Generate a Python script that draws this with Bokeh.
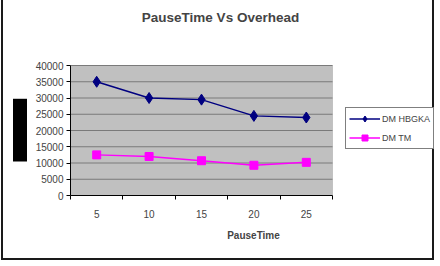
from bokeh.plotting import figure
from bokeh.models import (Range1d, FixedTicker, Legend, LegendItem, Title, Label,
                          BoxAnnotation, ColumnDataSource)
from bokeh.embed import file_html
from bokeh.resources import INLINE

# Data
pause_time = ["5", "10", "15", "20", "25"]
dmhbgka = [35000, 30000, 29500, 24500, 24000]
dmtm = [12500, 12000, 10700, 9300, 10200]
y_ticks = [0, 5000, 10000, 15000, 20000, 25000, 30000, 35000, 40000]

FONT = "Liberation Sans"
N = len(pause_time)
Y_MAX = y_ticks[-1]

# category centres sit half-way between the category boundaries
xpos = [i + 0.5 for i in range(N)]
src = ColumnDataSource(dict(x=xpos, a=dmhbgka, b=dmtm))

# The frame also covers the title and legend area; the plot area itself
# (262 x 130 px) is drawn as a shaded box inside it.
FRAME_W, FRAME_H = 366, 195
AREA_W, AREA_H = 262, 130

p = figure(width=433, height=260, output_backend="svg", toolbar_location=None,
           x_range=Range1d(0, N * FRAME_W / AREA_W),
           y_range=Range1d(0, Y_MAX * FRAME_H / AREA_H),
           min_border_left=67, min_border_right=0,
           min_border_top=0, min_border_bottom=65,
           styles={"margin-left": "1px",
                   "border-left": "2px solid #1a1a1a",
                   "border-right": "2px solid #1a1a1a",
                   "border-bottom": "2px solid #1a1a1a"})

p.background_fill_color = "white"
p.border_fill_color = "white"
p.outline_line_color = None
p.xgrid.grid_line_color = None
p.ygrid.grid_line_color = None

# plot area
p.add_layout(BoxAnnotation(left=0, right=N, bottom=0, top=Y_MAX,
                           fill_color="#c0c0c0", fill_alpha=1,
                           line_color="#808080", line_width=1, level="underlay"))
p.segment(x0=[0] * (len(y_ticks) - 1), x1=[N] * (len(y_ticks) - 1),
          y0=y_ticks[1:], y1=y_ticks[1:], line_color="#7a7a7a", line_width=1)

# axes
p.xaxis.bounds = (0, N)
p.xaxis.ticker = FixedTicker(ticks=xpos, minor_ticks=list(range(N + 1)))
p.xaxis.major_label_overrides = {x: t for x, t in zip(xpos, pause_time)}
p.xaxis.major_tick_out = 0
p.xaxis.major_tick_in = 0
p.xaxis.minor_tick_out = 4
p.xaxis.minor_tick_in = 0
p.xaxis.axis_line_color = "black"
p.xaxis.minor_tick_line_color = "black"
p.xaxis.major_label_text_font = FONT
p.xaxis.major_label_text_font_size = "10px"
p.xaxis.major_label_standoff = 10
p.xaxis.axis_label = "PauseTime"
p.xaxis.axis_label_text_font = FONT
p.xaxis.axis_label_text_font_size = "10px"
p.xaxis.axis_label_text_font_style = "bold"
p.xaxis.axis_label_standoff = 9

p.yaxis.bounds = (0, Y_MAX)
p.yaxis.ticker = FixedTicker(ticks=y_ticks, minor_ticks=[])
p.yaxis.major_tick_out = 4
p.yaxis.major_tick_in = 0
p.yaxis.axis_line_color = "black"
p.yaxis.major_tick_line_color = "black"
p.yaxis.major_label_text_font = FONT
p.yaxis.major_label_text_font_size = "10px"
p.yaxis.major_label_standoff = 3

# series
r1 = p.line("x", "a", source=src, line_color="#000080", line_width=1.5)
m1 = p.scatter("x", "a", source=src, marker="diamond", size=11,
               fill_color="#000080", line_color="#000080")
r2 = p.line("x", "b", source=src, line_color="#ff00ff", line_width=1.5)
m2 = p.scatter("x", "b", source=src, marker="square", size=8,
               fill_color="#ff00ff", line_color="#ff00ff")

legend = Legend(items=[LegendItem(label="DM HBGKA", renderers=[r1, m1]),
                       LegendItem(label="DM TM", renderers=[r2, m2])],
                location=(275, 46), orientation="vertical",
                label_text_font=FONT, label_text_font_size="9px",
                glyph_width=31, glyph_height=15, label_height=15,
                label_standoff=2, spacing=4, padding=3, margin=0,
                border_line_color="black", border_line_width=1,
                background_fill_color="white", background_fill_alpha=1)
p.add_layout(legend)

# chart title
p.add_layout(Label(x=150, y=178, x_units="screen", y_units="screen",
                   text="PauseTime Vs Overhead", text_font=FONT,
                   text_font_size="13.5px", text_font_style="bold",
                   text_align="center", text_baseline="middle"))

# value-axis title, shown as a solid black block
p.add_layout(Title(text="Overhead", text_font="DejaVu Sans", text_font_size="11.5px",
                   text_font_style="bold", text_color="black",
                   background_fill_color="black",
                   align="left", offset=34, standoff=11), "left")

open("out.html", "w").write(file_html(p, INLINE))
